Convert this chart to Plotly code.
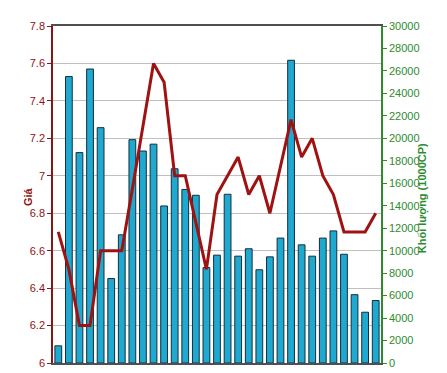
import plotly.graph_objects as go

sessions = list(range(1, 32))
volume = [1530, 25500, 18730, 26170, 20950, 7520, 11410, 19880, 18870, 19480,
          13980, 17290, 15450, 14930, 8500, 9600, 15020, 9510, 10170, 8300,
          9450, 11120, 26950, 10520, 9510, 11120, 11760, 9680, 6080, 4520, 5560]
price = [6.7, 6.5, 6.2, 6.2, 6.6, 6.6, 6.6, 6.93, 7.27, 7.6,
         7.5, 7.0, 7.0, 6.75, 6.5, 6.9, 7.0, 7.1, 6.9, 7.0,
         6.8, 7.05, 7.3, 7.1, 7.2, 7.0, 6.9, 6.7, 6.7, 6.7, 6.8]
price_ticks = [6, 6.2, 6.4, 6.6, 6.8, 7, 7.2, 7.4, 7.6, 7.8]
price_labels = ["6", "6.2", "6.4", "6.6", "6.8", "7", "7.2", "7.4", "7.6", "7.8"]
vol_ticks = list(range(0, 30001, 2000))

RED = "#8B1414"
GREEN = "#2E8B2E"

fig = go.Figure()
fig.add_trace(go.Bar(x=sessions, y=volume, yaxis="y",
                     marker=dict(color="#1FA8D0", line=dict(color="#12303C", width=1)),
                     showlegend=False))
fig.add_trace(go.Scatter(x=sessions, y=price, yaxis="y2", mode="lines",
                         line=dict(color="#A01212", width=3), showlegend=False))

fig.update_layout(
    width=447, height=373,
    margin=dict(l=45, r=74, t=14, b=12),
    paper_bgcolor="white", plot_bgcolor="white",
    bargap=0.36,
    font=dict(family="Liberation Sans, Arial, sans-serif", size=11),
    xaxis=dict(range=[0.5, 31.5], showticklabels=False, showgrid=False,
               showline=True, mirror=True, linecolor="#505050", linewidth=2,
               ticks="", zeroline=False),
    yaxis=dict(side="right", range=[0, 30000], tickvals=vol_ticks, tickformat="d",
               showgrid=False, zeroline=False, showline=True, linecolor=GREEN,
               linewidth=1.5, ticks="outside", ticklen=4, tickcolor=GREEN,
               tickfont=dict(color=GREEN, size=11)),
    yaxis2=dict(side="left", overlaying="y", range=[6, 7.8], tickvals=price_ticks,
                ticktext=price_labels, showgrid=True, gridcolor="#C0C0C0",
                gridwidth=1, zeroline=False, showline=True, linecolor=RED,
                linewidth=1.5, ticks="outside", ticklen=4, tickcolor=RED,
                tickfont=dict(color=RED, size=11)),
    annotations=[
        dict(text="<b>Giá</b>", x=-0.10, y=0.493, xref="paper", yref="paper",
             textangle=-90, showarrow=False, font=dict(color=RED, size=11)),
        dict(text="<b>Khối lượng (1000CP)</b>", x=1.155, y=0.49, xref="paper",
             yref="paper", textangle=-90, showarrow=False,
             font=dict(color=GREEN, size=11)),
    ],
)

fig.write_html("out.html")
